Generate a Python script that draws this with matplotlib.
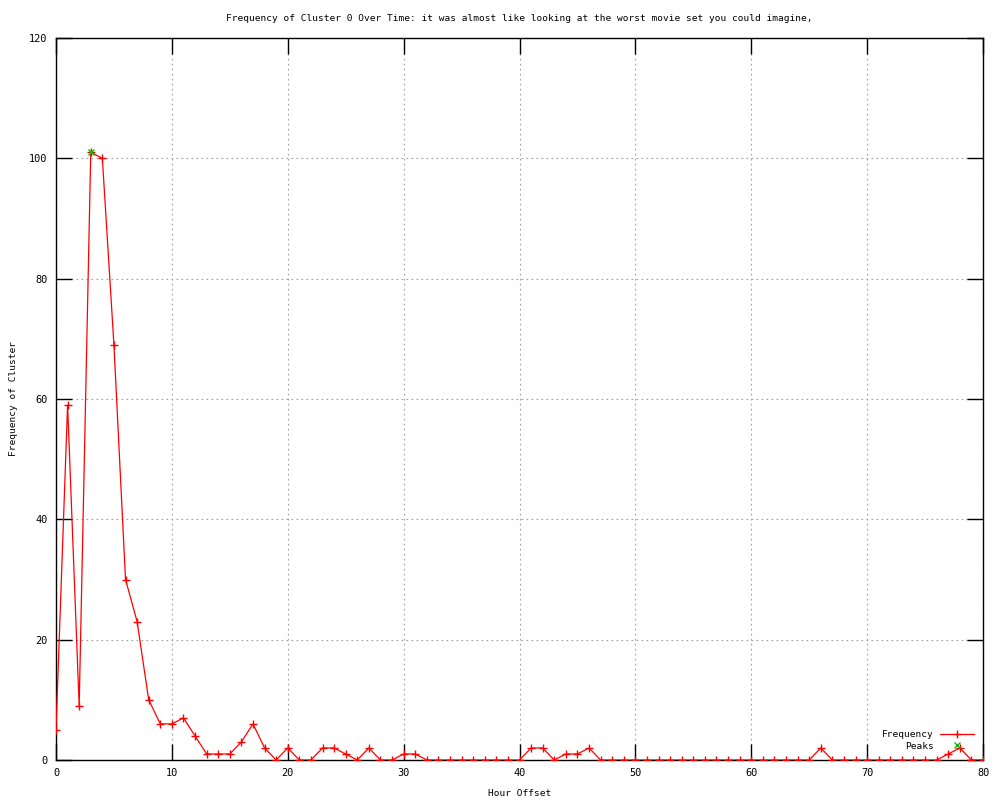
import matplotlib
matplotlib.use('Agg')
import matplotlib.pyplot as plt
from matplotlib.lines import Line2D

# данные кластера 0 по часам
hours = list(range(0, 81))
freq = [5, 59, 9, 101, 100, 69, 30, 23, 10, 6,
        6, 7, 4, 1, 1, 1, 3, 6, 2, 0,
        2, 0, 0, 2, 2, 1, 0, 2, 0, 0,
        1, 1, 0, 0, 0, 0, 0, 0, 0, 0,
        0, 2, 2, 0, 1, 1, 2, 0, 0, 0,
        0, 0, 0, 0, 0, 0, 0, 0, 0, 0,
        0, 0, 0, 0, 0, 0, 2, 0, 0, 0,
        0, 0, 0, 0, 0, 0, 0, 1, 2, 0,
        0]
peak_x = [3]
peak_y = [101]

x_ticks = [0, 10, 20, 30, 40, 50, 60, 70, 80]
y_ticks = [0, 20, 40, 60, 80, 100, 120]

fs = 6.8
plt.rcParams['font.family'] = 'DejaVu Sans Mono'
plt.rcParams['font.size'] = fs

fig = plt.figure(figsize=(10, 8), dpi=100)
ax = fig.add_axes([0.056, 0.05, 0.927, 0.9025])

ax.plot(hours, freq, color='red', linewidth=0.9, marker='+', markersize=5.5,
        markeredgewidth=1, zorder=3)
ax.plot(peak_x, peak_y, linestyle='none', color='#00c000', marker='x',
        markersize=5, markeredgewidth=1, zorder=4)

ax.set_xlim(0, 80)
ax.set_ylim(0, 120)
ax.set_xticks(x_ticks)
ax.set_yticks(y_ticks)
ax.tick_params(direction='in', length=11.5, width=1, top=True, right=True,
               color='black', labelsize=7.4, pad=6)
ax.grid(True, color='#a0a0a0', linestyle=(0, (1.5, 3)), linewidth=0.8)
for s in ax.spines.values():
    s.set_linewidth(1)

ax.set_title('Frequency of Cluster 0 Over Time: it was almost like looking at the worst movie set you could imagine,',
             fontsize=fs, pad=12)
ax.set_xlabel('Hour Offset', fontsize=fs, labelpad=8)
ax.set_ylabel('Frequency of Cluster', fontsize=fs, labelpad=8)

handles = [Line2D([], [], color='red', linewidth=0.9, marker='+', markersize=5.5),
           Line2D([], [], color='#00c000', linestyle='none', marker='x', markersize=5)]
leg = ax.legend(handles, ['Frequency', 'Peaks'], loc='lower right',
                frameon=False, markerfirst=False, handlelength=3.6,
                borderaxespad=0.6, labelspacing=0.25, handletextpad=0.6,
                fontsize=fs)

fig.savefig('out.png', dpi=100)
